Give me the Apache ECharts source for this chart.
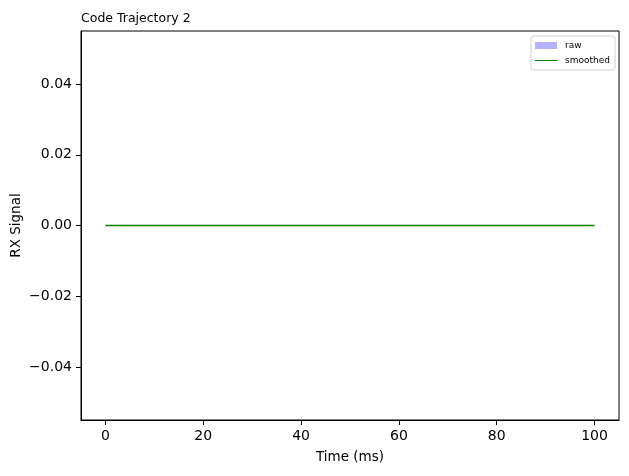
<!DOCTYPE html>
<html>
<head>
<meta charset="UTF-8">
<title>Code Trajectory 2</title>
<script src="https://cdn.jsdelivr.net/npm/echarts@6/dist/echarts.min.js"></script>
<style>
  html, body { margin: 0; padding: 0; background: #fff; }
  #chart { width: 629px; height: 476px; }
</style>
</head>
<body>
<div id="chart"></div>
<script>
// time samples (ms) and signals: everything sits on zero
const timeMs = [0, 10, 20, 30, 40, 50, 60, 70, 80, 90, 100];
const rawSignal = [0, 0, 0, 0, 0, 0, 0, 0, 0, 0, 0];
const smoothedSignal = [0, 0, 0, 0, 0, 0, 0, 0, 0, 0, 0];
const xTicks = [0, 20, 40, 60, 80, 100];
const yTicks = [-0.04, -0.02, 0, 0.02, 0.04];

const font = 'DejaVu Sans';
const pairs = (xs, ys) => xs.map((x, i) => [x, ys[i]]);
const fmtY = v => (v < 0 ? '\u2212' : '') + Math.abs(v).toFixed(2);

const chart = echarts.init(document.getElementById('chart'));
chart.setOption({
  animation: false,
  textStyle: { fontFamily: font },
  title: {
    text: 'Code Trajectory 2',
    left: 76, top: 7,
    textStyle: { fontSize: 12.5, fontWeight: 'normal', color: '#000', fontFamily: font }
  },
  legend: {
    orient: 'vertical',
    right: 14, top: 36,
    itemWidth: 22, itemHeight: 7, itemGap: 6,
    padding: [5, 5, 5, 4],
    borderColor: '#d0d0d0', borderWidth: 1, borderRadius: 2,
    textStyle: { fontSize: 9, color: '#000', fontFamily: font, padding: [0, 0, 0, 3] },
    data: [
      { name: 'raw', icon: 'rect', itemStyle: { color: 'rgba(0,0,255,0.3)' } },
      { name: 'smoothed', icon: 'path://M0,0H44V2H0Z', itemStyle: { color: '#008000' } }
    ]
  },
  grid: {
    left: 81, right: 10, top: 31, bottom: 56,
    outerBoundsMode: 'none', containLabel: false,
    show: true, borderColor: '#000', borderWidth: 1
  },
  xAxis: {
    type: 'value', min: -5, max: 105,
    name: 'Time (ms)', nameLocation: 'middle', nameGap: 30, nameMoveOverlap: false,
    nameTextStyle: { fontSize: 13.5, color: '#000' },
    axisLine: { onZero: false, lineStyle: { color: '#000' } },
    axisTick: { show: true, length: 5, lineStyle: { color: '#000' }, customValues: xTicks },
    axisLabel: { fontSize: 14, color: '#000', margin: 9, customValues: xTicks },
    splitLine: { show: false }
  },
  yAxis: {
    type: 'value', min: -0.055, max: 0.055,
    name: 'RX Signal', nameLocation: 'middle', nameGap: 58, nameMoveOverlap: false,
    nameTextStyle: { fontSize: 13.5, color: '#000', padding: [5, 0, 0, 0] },
    axisLine: { show: true, onZero: false, lineStyle: { color: '#000' } },
    axisTick: { show: true, length: 5, lineStyle: { color: '#000' }, customValues: yTicks },
    axisLabel: { fontSize: 14, color: '#000', margin: 9, customValues: yTicks, formatter: fmtY },
    splitLine: { show: false }
  },
  series: [
    {
      // zero-height band: nothing visible, as in the original
      name: 'raw', type: 'line', z: 1,
      data: pairs(timeMs, rawSignal),
      symbol: 'none',
      lineStyle: { color: 'rgba(0,0,255,0.3)', opacity: 0 },
      itemStyle: { color: 'rgba(0,0,255,0.3)' }
    },
    {
      name: 'smoothed', type: 'line', z: 3,
      data: pairs(timeMs, smoothedSignal),
      symbol: 'none',
      lineStyle: { width: 1.5, color: '#008000' },
      itemStyle: { color: '#008000' }
    }
  ]
});
</script>
</body>
</html>
